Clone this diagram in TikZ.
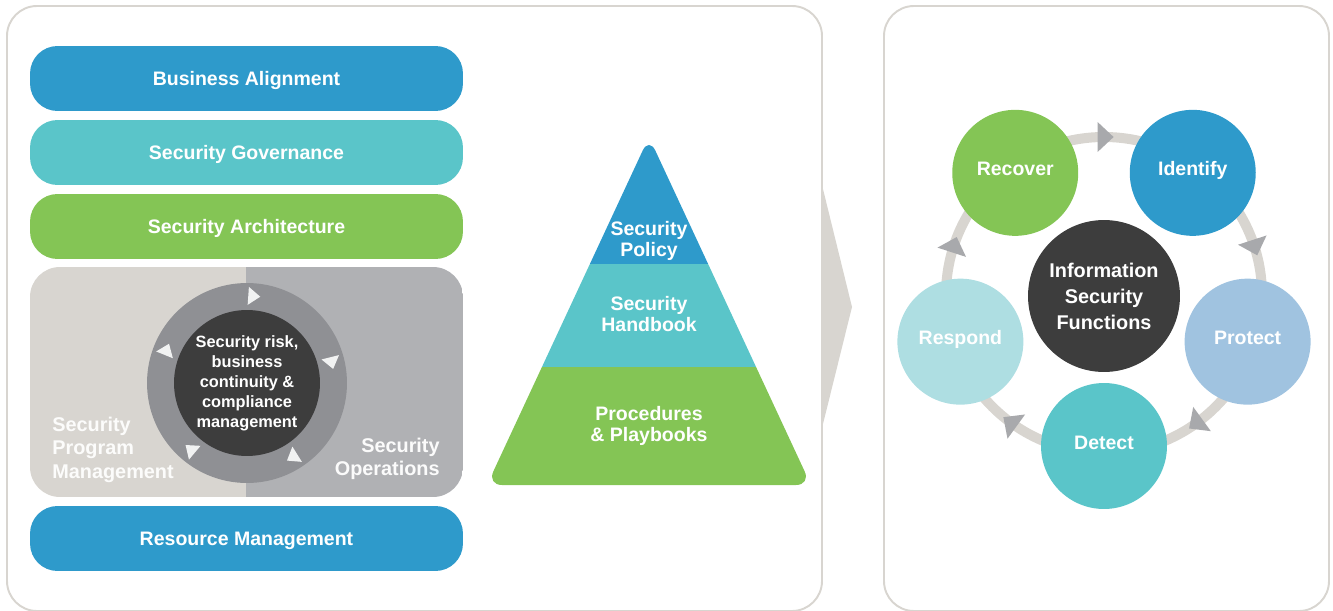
\documentclass[tikz,border=0pt]{standalone}
\usepackage{fontspec}
\setmainfont{Liberation Sans}
\usetikzlibrary{calc}
\definecolor{cblue}{HTML}{2E9ACB}
\definecolor{cteal}{HTML}{5AC5C9}
\definecolor{cgreen}{HTML}{84C555}
\definecolor{cdark}{HTML}{3D3D3D}
\definecolor{cpale}{HTML}{D8D5D0}
\definecolor{cmid}{HTML}{B0B1B4}
\definecolor{cring}{HTML}{8F9094}
\definecolor{cprotect}{HTML}{A0C3E0}
\definecolor{crespond}{HTML}{AEDEE2}
\definecolor{carrow}{HTML}{A8A9AC}
\tikzset{
  panel/.style={draw=cpale,line width=1.1pt,rounded corners=0.6cm},
  txt/.style={text=white,align=center,font=\bfseries\fontsize{11.1}{12}\selectfont},
  bar/.style={txt,rounded corners=0.55cm,minimum width=8.66cm,minimum height=1.3cm,
    text depth=0pt},
  func/.style={txt,circle,minimum size=2.52cm,inner sep=0pt,
    text height=0.75em,text depth=0.4em},
}
\begin{document}
\begin{tikzpicture}[x=0.02cm,y=0.02cm]
      % Triangle on a ring, pointing clockwise
      \newcommand\ringtri[6]{
        \fill[#6,shift={(#1)},shift={(#3:#2)},rotate=#3-90]
          (0.6*#5,0) -- (-0.4*#5,#4) -- (-0.4*#5,-#4) -- cycle;
      }
      \useasboundingbox (0,0) rectangle (1333,610);

      % Panels
      \draw[panel] (7,-1) rectangle (822,604);
      \draw[panel] (884,-1) rectangle (1329,604);
      \fill[cpale] (822,425) -- (852,303) -- (822,182) -- cycle;

      % Layers
      \node[bar,fill=cblue] (align) at (246.5,531.5) {Business Alignment};
      \node[bar,fill=cteal] (gov) at (246.5,457.5) {Security Governance};
      \node[bar,fill=cgreen] (arch) at (246.5,383.5) {Security Architecture};
      \node[bar,fill=cblue] (res) at (246.5,71.5) {Resource Management};

      % Program and operations
      \begin{scope}
        \clip[rounded corners=0.6cm] (30,113) rectangle (463,343);
        \fill[cpale] (30,113) rectangle (246,343);
        \fill[cmid] (246,113) rectangle (463,343);
      \end{scope}
      \node[txt,text=white!92!cpale,align=left,anchor=west,inner sep=0pt,
        font=\bfseries\fontsize{11.3}{13.4}\selectfont] (prog) at (52,160.5)
        {Security\\Program\\Management};
      \node[txt,text=white!95!cmid,align=right,anchor=east,inner sep=0pt,
        font=\bfseries\fontsize{11.3}{13.4}\selectfont] (ops) at (440,151)
        {Security\\Operations};
      \node[circle,fill=cring,minimum size=4cm] (ring) at (247,227) {};
      \node[txt,circle,fill=cdark,minimum size=2.92cm,inner sep=0pt,
        font=\bfseries\fontsize{9.3}{11.4}\selectfont] (risk) at (247,227)
        {Security risk,\\business\\continuity \&\\compliance\\management};
      \foreach \a in {86,14,-58,-130,158}
        \ringtri{247,227}{87}{\a}{9}{12}{white!88!cring};

      % Documents
      \begin{scope}
        \clip[rounded corners=0.3cm] (649,473) -- (811,125) -- (487,125) -- cycle;
        \fill[cgreen] (480,120) rectangle (820,243);
        \fill[cteal] (480,243) rectangle (820,346);
        \fill[cblue] (480,346) rectangle (820,480);
      \end{scope}
      \node[txt] (policy) at (649,369) {Security\\Policy};
      \node[txt] (book) at (649,296) {Security\\Handbook};
      \node[txt] (play) at (649,184) {Procedures\\\& Playbooks};

      % Functions
      \coordinate (hub) at (1104,315);
      \draw[cpale,line width=0.2cm] (hub) circle (158);
      \foreach \a in {90,18,-54,-126,162}
        \ringtri{1104,315}{158}{\a}{15}{16}{carrow};
      \node[func,fill=cgreen] (recover) at ($(hub)+(126:151)$) {Recover};
      \node[func,fill=cblue] (identify) at ($(hub)+(54:151)$) {Identify};
      \node[func,fill=cprotect] (protect) at ($(hub)+(-18:151)$) {Protect};
      \node[func,fill=cteal] (detect) at ($(hub)+(-90:151)$) {Detect};
      \node[func,fill=crespond] (respond) at ($(hub)+(198:151)$) {Respond};
      \node[txt,circle,fill=cdark,minimum size=3.04cm,inner sep=0pt,
        font=\bfseries\fontsize{11.3}{14.8}\selectfont] (info) at (1104,314)
        {Information\\Security\\Functions};
\end{tikzpicture}
\end{document}
